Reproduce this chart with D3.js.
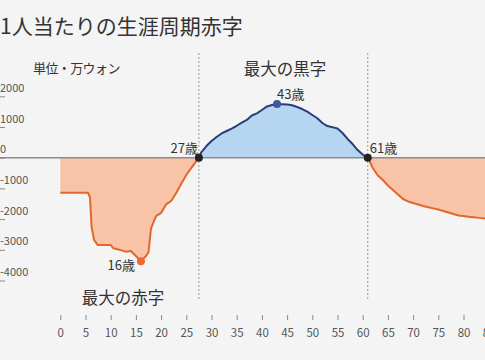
<!DOCTYPE html>
<html>
<head>
<meta charset="utf-8">
<script src="https://cdn.jsdelivr.net/npm/d3@7"></script>
<style>
  html, body { margin: 0; padding: 0; background: #f4f4f4; }
  svg { display: block; }
  text { font-family: "Noto Sans CJK JP", "Noto Sans", sans-serif; }
  .num { font-family: Roboto, "Noto Sans", sans-serif; }
</style>
</head>
<body>
<svg id="chart" width="485" height="360"></svg>
<script>
// ---- data ----
const ages = [0, 5.5, 5.9, 6.2, 6.7, 7.4, 10, 10.5, 12, 13, 14, 15, 16, 17, 17.5, 18, 19, 20, 21, 22, 23, 24, 25, 26, 27, 27.5,
  28, 29, 30, 31, 32, 33, 34, 35, 36, 37, 38, 39, 40, 41, 42, 43, 44, 45, 46, 47, 48, 49, 50, 51, 52, 53, 54, 55, 56, 57, 58, 59, 60, 61,
  62, 63, 64, 65, 66, 67, 68, 69, 70, 71, 72, 73, 74, 75, 76, 77, 78, 79, 80, 81, 82, 83, 84, 85];
const balance = [-1140, -1140, -1300, -2250, -2680, -2840, -2840, -2950, -3010, -3060, -3040, -3200, -3370, -3200, -3080, -2300, -1900, -1800, -1520, -1410, -1150, -850, -560, -330, -110, 0,
  185, 380, 545, 675, 790, 870, 950, 1040, 1145, 1230, 1375, 1445, 1555, 1670, 1715, 1750, 1740, 1730, 1710, 1650, 1585, 1500, 1390, 1285, 1130, 1030, 995, 950, 805, 610, 445, 250, 105, 0,
  -335, -580, -725, -905, -1050, -1200, -1345, -1425, -1475, -1525, -1575, -1615, -1650, -1690, -1735, -1785, -1835, -1880, -1900, -1925, -1940, -1960, -1975, -1985];
const xTicks = [0, 5, 10, 15, 20, 25, 30, 35, 40, 45, 50, 55, 60, 65, 70, 75, 80, 85];
const yTicks = [2000, 1000, 0, -1000, -2000, -3000, -4000];
const crossAges = [27.5, 61];
const crossLabels = ["27歳", "61歳"];
const peakAge = 43, peakLabel = "43歳";
const troughAge = 16, troughLabel = "16歳";
const title = "1人当たりの生涯周期赤字";
const unitLabel = "単位・万ウォン";
const surplusLabel = "最大の黒字";
const deficitLabel = "最大の赤字";

// ---- layout ----
const svg = d3.select("#chart");
const W = 485, H = 360;
const x = d3.scaleLinear().domain([0, 85]).range([60.3, 488.7]);
const y = d3.scaleLinear().domain([-4000, 2000]).range([280.5, 96.3]);
const data = ages.map((a, i) => ({ a, v: balance[i] }));
const valAt = a => data[ages.indexOf(a)].v;

// clip paths for above / below zero
const defs = svg.append("defs");
defs.append("clipPath").attr("id", "above").append("rect")
  .attr("x", 0).attr("y", 0).attr("width", W).attr("height", y(0));
defs.append("clipPath").attr("id", "below").append("rect")
  .attr("x", 0).attr("y", y(0)).attr("width", W).attr("height", H - y(0));

const area = d3.area().x(d => x(d.a)).y0(y(0)).y1(d => y(d.v));
const line = d3.line().x(d => x(d.a)).y(d => y(d.v));

// title & labels
svg.append("text").attr("x", 0).attr("y", 34).attr("font-size", 21).attr("fill", "#333").text(title);
svg.append("text").attr("x", 33).attr("y", 73).attr("font-size", 13).attr("letter-spacing", -0.6)
  .attr("fill", "#333").text(unitLabel);

// vertical dashed lines
svg.selectAll(".vline").data(crossAges).join("line")
  .attr("x1", d => x(d)).attr("x2", d => x(d))
  .attr("y1", 53).attr("y2", 300)
  .attr("stroke", "#999").attr("stroke-width", 1).attr("stroke-dasharray", "2,2");

// areas
svg.append("path").datum(data).attr("clip-path", "url(#below)")
  .attr("d", area).attr("fill", "#f9c3a8");
svg.append("path").datum(data).attr("clip-path", "url(#above)")
  .attr("d", area).attr("fill", "#b5d5f0");

// zero line
svg.append("line").attr("x1", 0).attr("x2", W).attr("y1", y(0)).attr("y2", y(0))
  .attr("stroke", "#8c8c8c").attr("stroke-width", 1.5);

// lines
svg.append("path").datum(data).attr("clip-path", "url(#below)")
  .attr("d", line).attr("fill", "none").attr("stroke", "#e2672a").attr("stroke-width", 2).attr("stroke-linejoin", "round");
svg.append("path").datum(data).attr("clip-path", "url(#above)")
  .attr("d", line).attr("fill", "none").attr("stroke", "#2b3d7c").attr("stroke-width", 2).attr("stroke-linejoin", "round");

// y axis
const yAxis = svg.append("g").attr("class", "num")
  .call(d3.axisRight(y).tickValues(yTicks).tickSize(5).tickFormat(d => String(d)));
yAxis.select(".domain").remove();
yAxis.selectAll(".tick line").attr("stroke", "#888");
yAxis.selectAll(".tick text").attr("x", 0).attr("dy", "-0.45em").attr("text-anchor", "start")
  .attr("font-size", 11).attr("fill", "#555").attr("font-family", "Roboto, sans-serif");

// x axis
const xAxis = svg.append("g").attr("transform", "translate(0,315)")
  .call(d3.axisBottom(x).tickValues(xTicks).tickSize(5).tickPadding(9));
xAxis.select(".domain").remove();
xAxis.selectAll(".tick line").attr("stroke", "#888");
xAxis.selectAll(".tick text").attr("font-size", 11.5).attr("fill", "#555").attr("font-family", "Roboto, sans-serif");

// dots
svg.selectAll(".cross").data(crossAges).join("circle")
  .attr("cx", d => x(d)).attr("cy", y(0)).attr("r", 4).attr("fill", "#222");
svg.append("circle").attr("cx", x(peakAge)).attr("cy", y(valAt(peakAge))).attr("r", 4).attr("fill", "#3f56a3");
svg.append("circle").attr("cx", x(troughAge)).attr("cy", y(valAt(troughAge))).attr("r", 4).attr("fill", "#ec6a2b");

// annotations
svg.append("text").attr("x", x(crossAges[0]) - 1).attr("y", 153).attr("text-anchor", "end")
  .attr("font-size", 13).attr("fill", "#333").text(crossLabels[0]);
svg.append("text").attr("x", x(crossAges[1]) + 2).attr("y", 153).attr("text-anchor", "start")
  .attr("font-size", 13).attr("fill", "#333").text(crossLabels[1]);
svg.append("text").attr("x", x(peakAge)).attr("y", 99).attr("text-anchor", "start")
  .attr("font-size", 13).attr("fill", "#333").text(peakLabel);
svg.append("text").attr("x", x(troughAge) - 6).attr("y", 270).attr("text-anchor", "end")
  .attr("font-size", 13).attr("fill", "#333").text(troughLabel);
svg.append("text").attr("x", 285).attr("y", 75).attr("text-anchor", "middle")
  .attr("font-size", 16.5).attr("fill", "#333").text(surplusLabel);
svg.append("text").attr("x", 123).attr("y", 304).attr("text-anchor", "middle")
  .attr("font-size", 16.5).attr("fill", "#333").text(deficitLabel);
</script>
</body>
</html>
